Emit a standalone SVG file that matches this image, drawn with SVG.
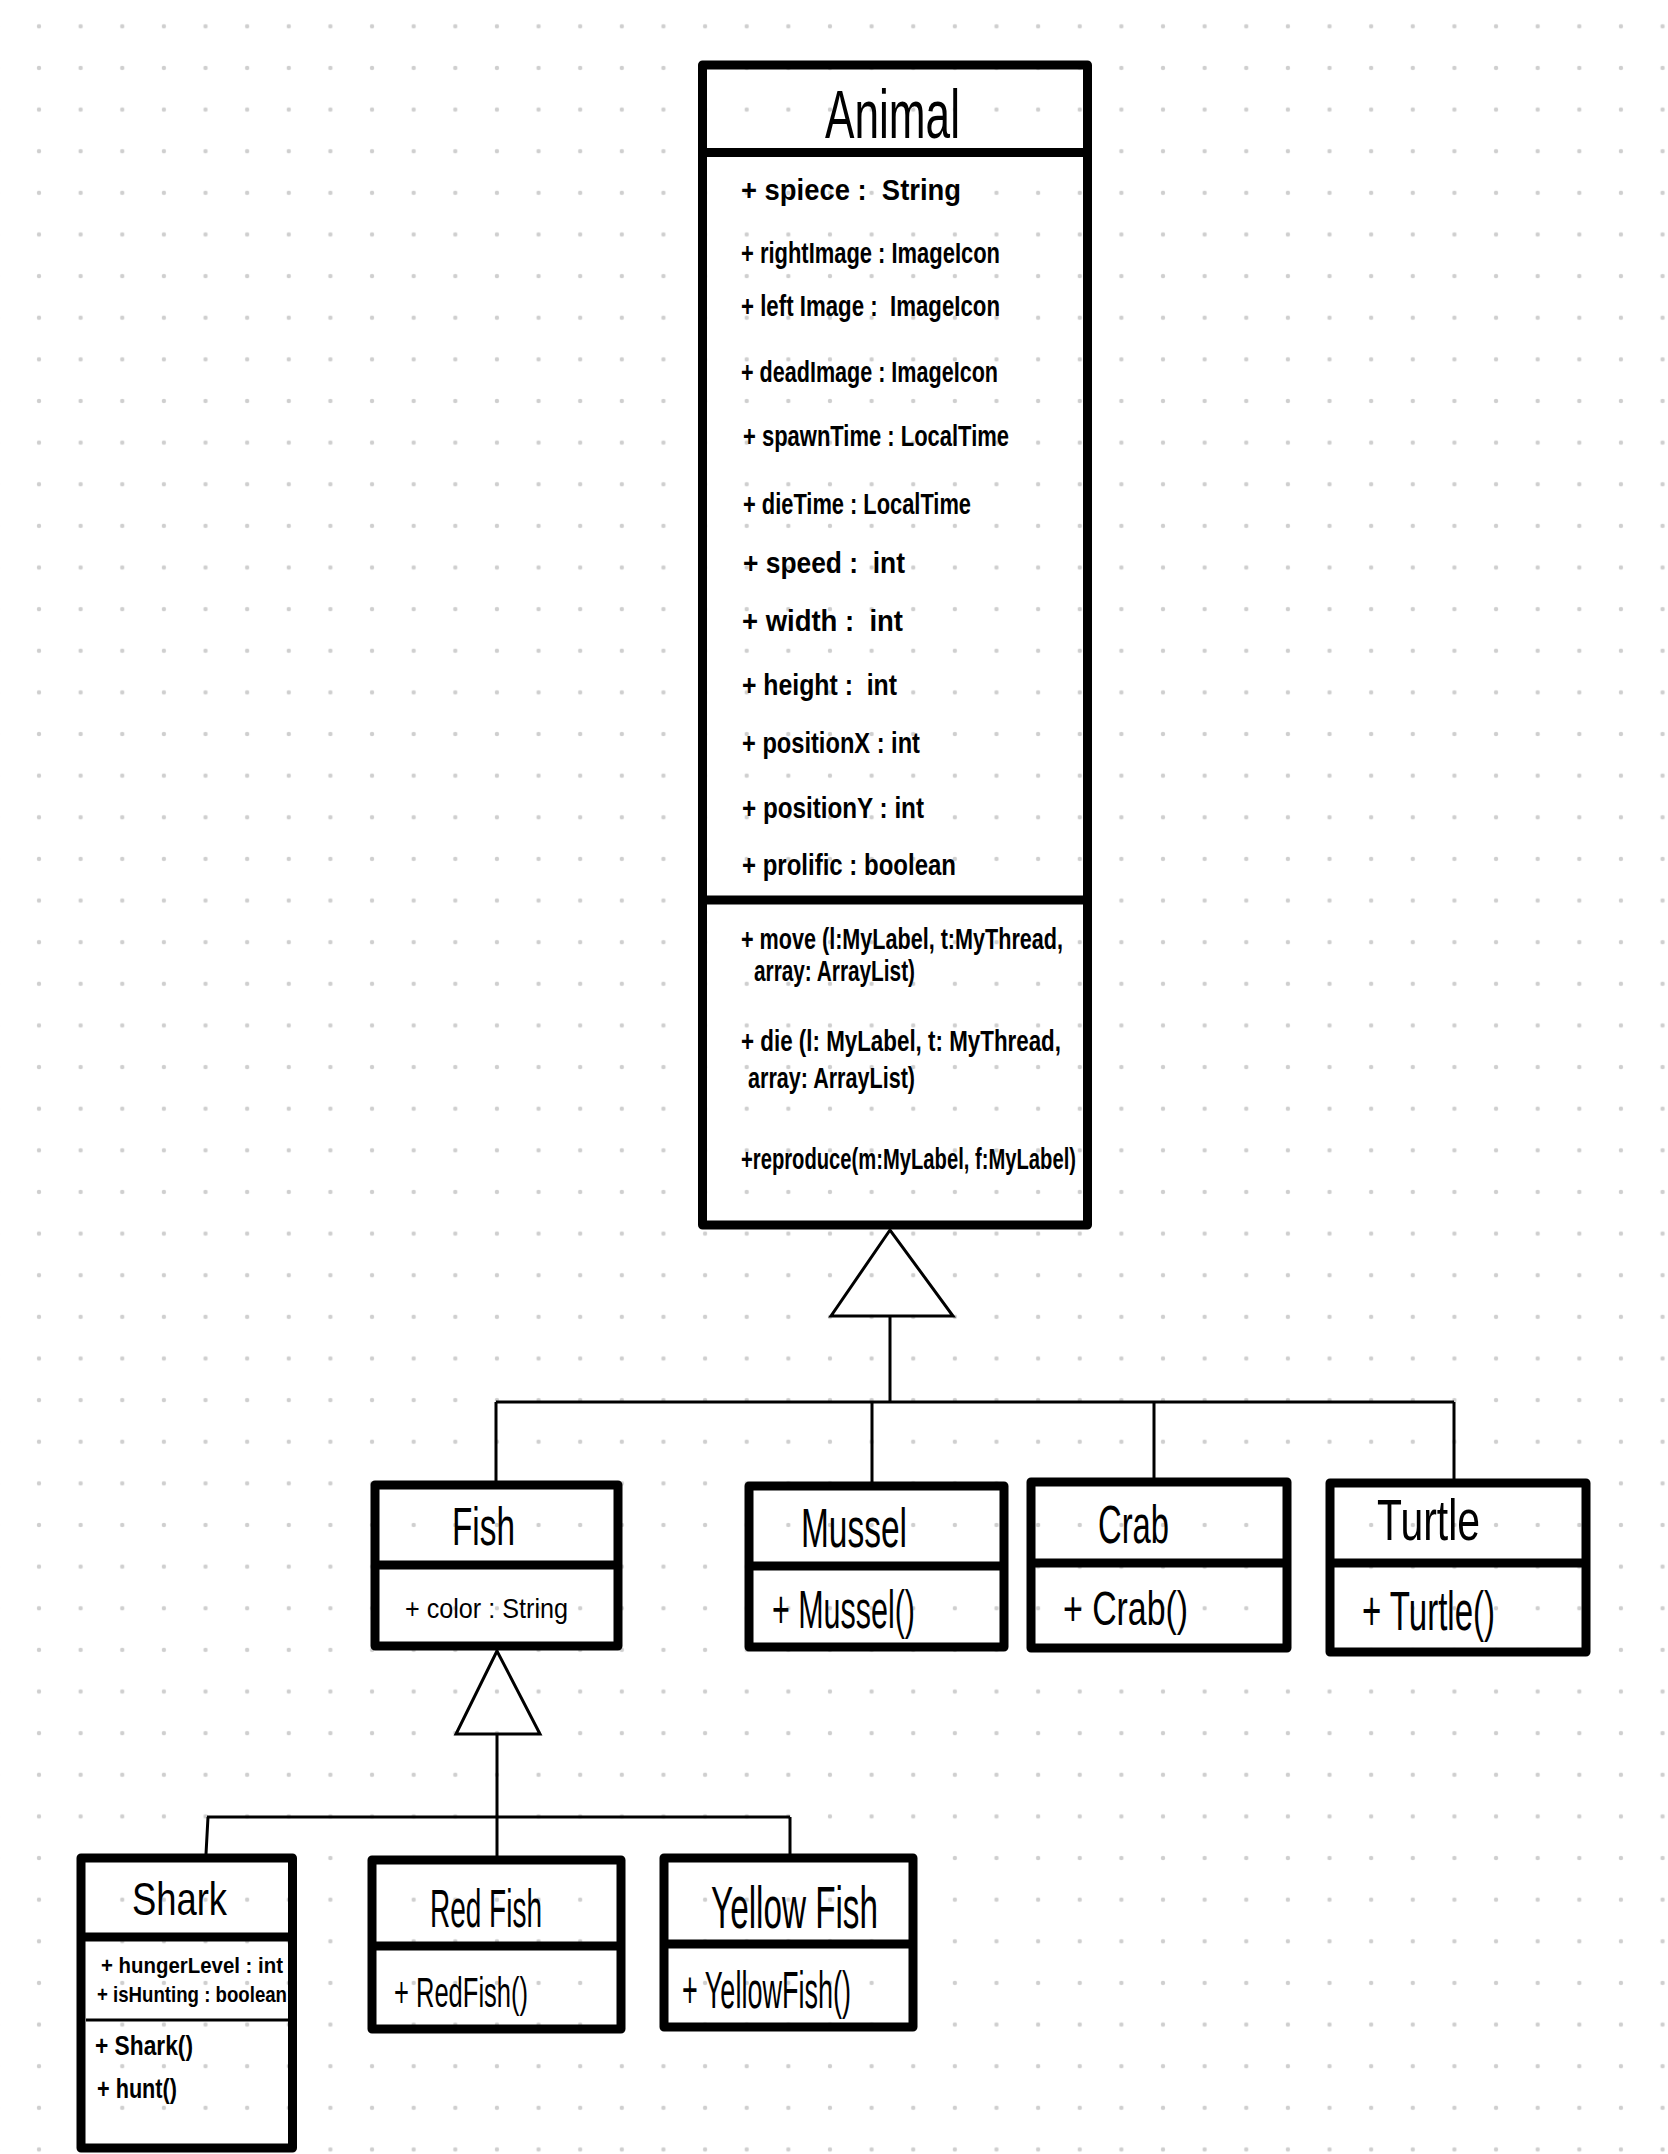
<svg xmlns="http://www.w3.org/2000/svg" width="1668" height="2154" viewBox="0 0 1668 2154">
  <style>
    .box { fill: none; stroke: #000; stroke-width: 9; stroke-linejoin: round; }
    .sep { stroke: #000; stroke-width: 9; }
    .thin { stroke: #000; stroke-width: 3; }
    .link { fill: none; stroke: #000; stroke-width: 3; }
    .gen { fill: none; stroke: #000; stroke-width: 3; stroke-linejoin: miter; }
    text { font-family: "Liberation Sans", Arial, sans-serif; fill: #000; white-space: pre; }
    .ttl { font-weight: normal; }
    .mb { font-weight: bold; }
    .mn { font-weight: normal; }
  </style>
  <defs>
    <pattern id="dots" patternUnits="userSpaceOnUse" x="18.2" y="5.5" width="41.63" height="41.63">
      <circle cx="20.815" cy="20.815" r="2.2" fill="#cfcfcf"/>
    </pattern>
  </defs>

  <!-- dotted paper -->
  <rect width="1668" height="2154" fill="#fff"/>
  <rect width="1668" height="2154" fill="url(#dots)"/>

  <!-- generalisation connectors -->
  <g id="connectors">
    <polygon class="gen" points="890,1230 831,1316 953,1316"/>
    <path class="link" d="M890 1316 V1402 M496 1402 H1454 M496 1402 V1485 M872 1402 V1486 M1154 1402 V1482 M1454 1402 V1483"/>
    <polygon class="gen" points="497,1651 456,1734 540,1734"/>
    <path class="link" d="M497 1734 V1856 M207 1817 H790 M208 1817 L206 1854 M790 1817 V1854"/>
  </g>

  <!-- Animal -->
  <g id="animal">
    <rect class="box" x="702.5" y="65" width="385" height="1160"/>
    <line class="sep" x1="702.5" y1="152.5" x2="1087.5" y2="152.5"/>
    <line class="sep" x1="702.5" y1="900" x2="1087.5" y2="900"/>
    <text class="ttl" x="825" y="138" font-size="68" textLength="135" lengthAdjust="spacingAndGlyphs">Animal</text>
    <g font-size="30">
      <text class="mb" x="741" y="200" textLength="220" lengthAdjust="spacingAndGlyphs">+ spiece :  String</text>
      <text class="mb" x="741" y="263" textLength="259" lengthAdjust="spacingAndGlyphs">+ rightImage : ImageIcon</text>
      <text class="mb" x="741" y="316" textLength="259" lengthAdjust="spacingAndGlyphs">+ left Image :  ImageIcon</text>
      <text class="mb" x="741" y="382" textLength="257" lengthAdjust="spacingAndGlyphs">+ deadImage : ImageIcon</text>
      <text class="mb" x="743" y="446" textLength="266" lengthAdjust="spacingAndGlyphs">+ spawnTime : LocalTime</text>
      <text class="mb" x="743" y="514" textLength="228" lengthAdjust="spacingAndGlyphs">+ dieTime : LocalTime</text>
      <text class="mb" x="743" y="573" textLength="162" lengthAdjust="spacingAndGlyphs">+ speed :  int</text>
      <text class="mb" x="742" y="631" textLength="161" lengthAdjust="spacingAndGlyphs">+ width :  int</text>
      <text class="mb" x="742" y="695" textLength="155" lengthAdjust="spacingAndGlyphs">+ height :  int</text>
      <text class="mb" x="742" y="753" textLength="178" lengthAdjust="spacingAndGlyphs">+ positionX : int</text>
      <text class="mb" x="742" y="818" textLength="182" lengthAdjust="spacingAndGlyphs">+ positionY : int</text>
      <text class="mb" x="742" y="875" textLength="214" lengthAdjust="spacingAndGlyphs">+ prolific : boolean</text>
      <text class="mb" x="741" y="949" textLength="322" lengthAdjust="spacingAndGlyphs">+ move (l:MyLabel, t:MyThread,</text>
      <text class="mb" x="754" y="981" textLength="161" lengthAdjust="spacingAndGlyphs">array: ArrayList)</text>
      <text class="mb" x="741" y="1051" textLength="320" lengthAdjust="spacingAndGlyphs">+ die (l: MyLabel, t: MyThread,</text>
      <text class="mb" x="748" y="1088" textLength="167" lengthAdjust="spacingAndGlyphs">array: ArrayList)</text>
      <text class="mb" x="741" y="1169" textLength="335" lengthAdjust="spacingAndGlyphs">+reproduce(m:MyLabel, f:MyLabel)</text>
    </g>
  </g>

  <!-- Fish -->
  <g id="fish">
    <rect class="box" x="375" y="1485" width="243" height="161"/>
    <line class="sep" x1="375" y1="1565" x2="618" y2="1565"/>
    <text class="ttl" x="452" y="1545" font-size="53" textLength="63" lengthAdjust="spacingAndGlyphs">Fish</text>
    <text class="mn" x="405" y="1618" font-size="28" textLength="163" lengthAdjust="spacingAndGlyphs">+ color : String</text>
  </g>

  <!-- Mussel -->
  <g id="mussel">
    <rect class="box" x="749" y="1486" width="255" height="161"/>
    <line class="sep" x1="749" y1="1566" x2="1004" y2="1566"/>
    <text class="ttl" x="801" y="1547" font-size="56" textLength="106" lengthAdjust="spacingAndGlyphs">Mussel</text>
    <text class="mn" x="772" y="1628" font-size="54" textLength="143" lengthAdjust="spacingAndGlyphs">+ Mussel()</text>
  </g>

  <!-- Crab -->
  <g id="crab">
    <rect class="box" x="1031" y="1482" width="256" height="166"/>
    <line class="sep" x1="1031" y1="1563" x2="1287" y2="1563"/>
    <text class="ttl" x="1098" y="1543" font-size="53" textLength="71" lengthAdjust="spacingAndGlyphs">Crab</text>
    <text class="mn" x="1063" y="1625" font-size="48" textLength="125" lengthAdjust="spacingAndGlyphs">+ Crab()</text>
  </g>

  <!-- Turtle -->
  <g id="turtle">
    <rect class="box" x="1330" y="1483" width="256" height="169"/>
    <line class="sep" x1="1330" y1="1563" x2="1586" y2="1563"/>
    <text class="ttl" x="1377" y="1540" font-size="58" textLength="103" lengthAdjust="spacingAndGlyphs">Turtle</text>
    <text class="mn" x="1362" y="1630" font-size="56" textLength="133" lengthAdjust="spacingAndGlyphs">+ Turtle()</text>
  </g>

  <!-- Shark -->
  <g id="shark">
    <rect class="box" x="81" y="1858" width="211.5" height="290"/>
    <line class="sep" x1="81" y1="1937" x2="292.5" y2="1937"/>
    <line class="thin" x1="86" y1="2020" x2="288" y2="2020"/>
    <text class="ttl" x="132" y="1915" font-size="46" textLength="95" lengthAdjust="spacingAndGlyphs">Shark</text>
    <text class="mb" x="101" y="1973" font-size="22" textLength="182" lengthAdjust="spacingAndGlyphs">+ hungerLevel : int</text>
    <text class="mb" x="97" y="2002" font-size="22" textLength="190" lengthAdjust="spacingAndGlyphs">+ isHunting : boolean</text>
    <text class="mb" x="95" y="2055" font-size="27" textLength="98" lengthAdjust="spacingAndGlyphs">+ Shark()</text>
    <text class="mb" x="97" y="2098" font-size="27" textLength="80" lengthAdjust="spacingAndGlyphs">+ hunt()</text>
  </g>

  <!-- Red Fish -->
  <g id="red-fish">
    <rect class="box" x="372" y="1860" width="249" height="169"/>
    <line class="sep" x1="372" y1="1946" x2="621" y2="1946"/>
    <text class="ttl" x="430" y="1927" font-size="53" textLength="112" lengthAdjust="spacingAndGlyphs">Red Fish</text>
    <text class="mn" x="394" y="2007" font-size="42" textLength="134" lengthAdjust="spacingAndGlyphs">+ RedFish()</text>
  </g>

  <!-- Yellow Fish -->
  <g id="yellow-fish">
    <rect class="box" x="664" y="1858" width="249" height="169"/>
    <line class="sep" x1="664" y1="1944" x2="913" y2="1944"/>
    <text class="ttl" x="711" y="1928" font-size="60" textLength="167" lengthAdjust="spacingAndGlyphs">Yellow Fish</text>
    <text class="mn" x="682" y="2008" font-size="52" textLength="169" lengthAdjust="spacingAndGlyphs">+ YellowFish()</text>
  </g>
</svg>
